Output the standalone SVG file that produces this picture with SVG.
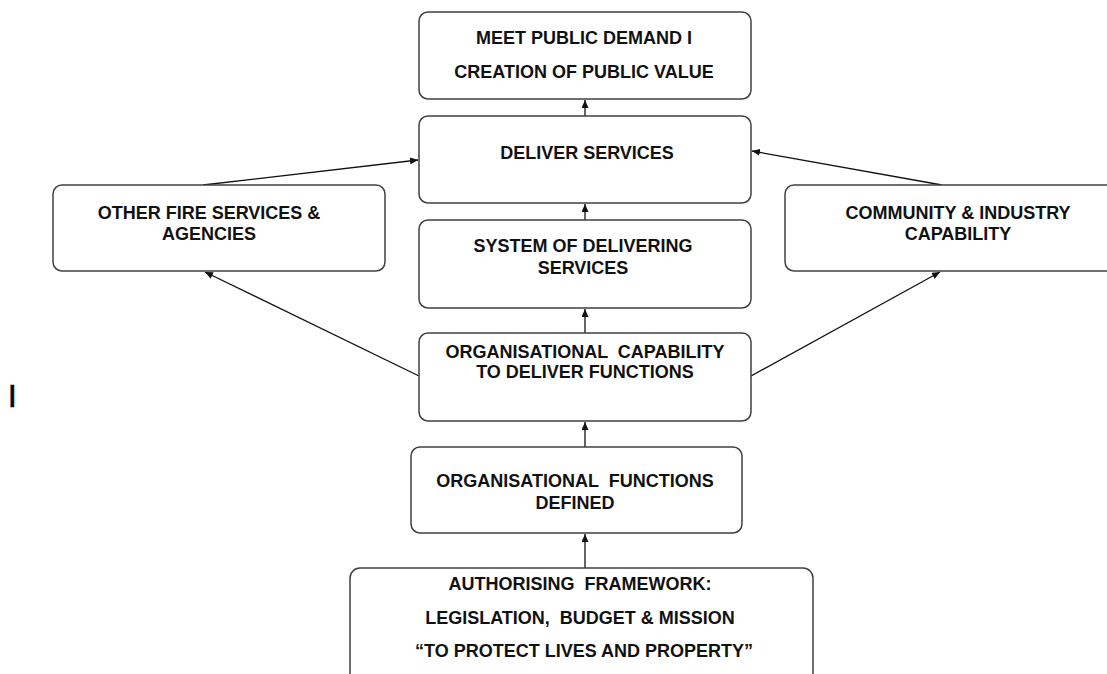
<svg xmlns="http://www.w3.org/2000/svg" width="1107" height="674" viewBox="0 0 1107 674">
  <style>
    .box { fill: #ffffff; stroke: #404040; stroke-width: 1.5; }
    .lbl { font-family: "Liberation Sans", Arial, sans-serif; font-weight: bold; font-size: 18px; fill: #111111; text-anchor: middle; }
    .edge { stroke: #111111; stroke-width: 1.3; fill: none; marker-end: url(#arrow); }
  </style>
  <defs>
    <marker id="arrow" markerWidth="9" markerHeight="7" refX="8" refY="3.5" orient="auto" markerUnits="userSpaceOnUse">
      <path d="M0,0 L8,3.5 L0,7 Z" fill="#111111"/>
    </marker>
  </defs>
  <rect width="1107" height="674" fill="#ffffff"/>

  <!-- connectors -->
  <g id="connectors">
    <line class="edge" x1="585" y1="116" x2="585" y2="100"/>
    <line class="edge" x1="585" y1="220" x2="585" y2="204"/>
    <line class="edge" x1="585" y1="333" x2="585" y2="309"/>
    <line class="edge" x1="585" y1="447" x2="585" y2="422"/>
    <line class="edge" x1="585" y1="568" x2="585" y2="534"/>
    <line class="edge" x1="203" y1="185" x2="418" y2="160"/>
    <line class="edge" x1="942" y1="185" x2="752" y2="151"/>
    <line class="edge" x1="419" y1="376" x2="205" y2="272"/>
    <line class="edge" x1="751" y1="376" x2="940" y2="272"/>
  </g>

  <g id="public-value">
    <rect class="box" x="419" y="12" width="332" height="87" rx="9"/>
    <text class="lbl" x="584" y="43.5">MEET PUBLIC DEMAND I</text>
    <text class="lbl" x="584" y="77.5">CREATION OF PUBLIC VALUE</text>
  </g>

  <g id="deliver-services">
    <rect class="box" x="419" y="116" width="332" height="87" rx="9"/>
    <text class="lbl" x="587" y="158.5">DELIVER SERVICES</text>
  </g>

  <g id="delivery-system">
    <rect class="box" x="419" y="220" width="332" height="88" rx="9"/>
    <text class="lbl" x="583" y="251.5">SYSTEM OF DELIVERING</text>
    <text class="lbl" x="583" y="273.5">SERVICES</text>
  </g>

  <g id="org-capability">
    <rect class="box" x="419" y="333" width="332" height="88" rx="9"/>
    <text class="lbl" x="585" y="357.5" xml:space="preserve">ORGANISATIONAL  CAPABILITY</text>
    <text class="lbl" x="585" y="377.5">TO DELIVER FUNCTIONS</text>
  </g>

  <g id="org-functions">
    <rect class="box" x="411" y="447" width="331" height="86" rx="9"/>
    <text class="lbl" x="575" y="486.5" xml:space="preserve">ORGANISATIONAL  FUNCTIONS</text>
    <text class="lbl" x="575" y="508.5">DEFINED</text>
  </g>

  <g id="authorising-framework">
    <rect class="box" x="350" y="568" width="463" height="120" rx="10"/>
    <text class="lbl" x="580" y="589.5" xml:space="preserve">AUTHORISING  FRAMEWORK:</text>
    <text class="lbl" x="580" y="623.5" xml:space="preserve">LEGISLATION,  BUDGET &amp; MISSION</text>
    <text class="lbl" x="584" y="656.5">“TO PROTECT LIVES AND PROPERTY”</text>
  </g>

  <g id="other-agencies">
    <rect class="box" x="53" y="185" width="332" height="86" rx="9"/>
    <text class="lbl" x="209" y="218.5">OTHER FIRE SERVICES &amp;</text>
    <text class="lbl" x="209" y="239.5">AGENCIES</text>
  </g>

  <g id="community-capability">
    <rect class="box" x="785" y="185" width="340" height="86" rx="9"/>
    <text class="lbl" x="958" y="218.5">COMMUNITY &amp; INDUSTRY</text>
    <text class="lbl" x="958" y="239.5">CAPABILITY</text>
  </g>

  <text x="8" y="407" font-family="Liberation Sans, Arial, sans-serif" font-size="31" fill="#000000" stroke="#000000" stroke-width="0.7">I</text>
</svg>
